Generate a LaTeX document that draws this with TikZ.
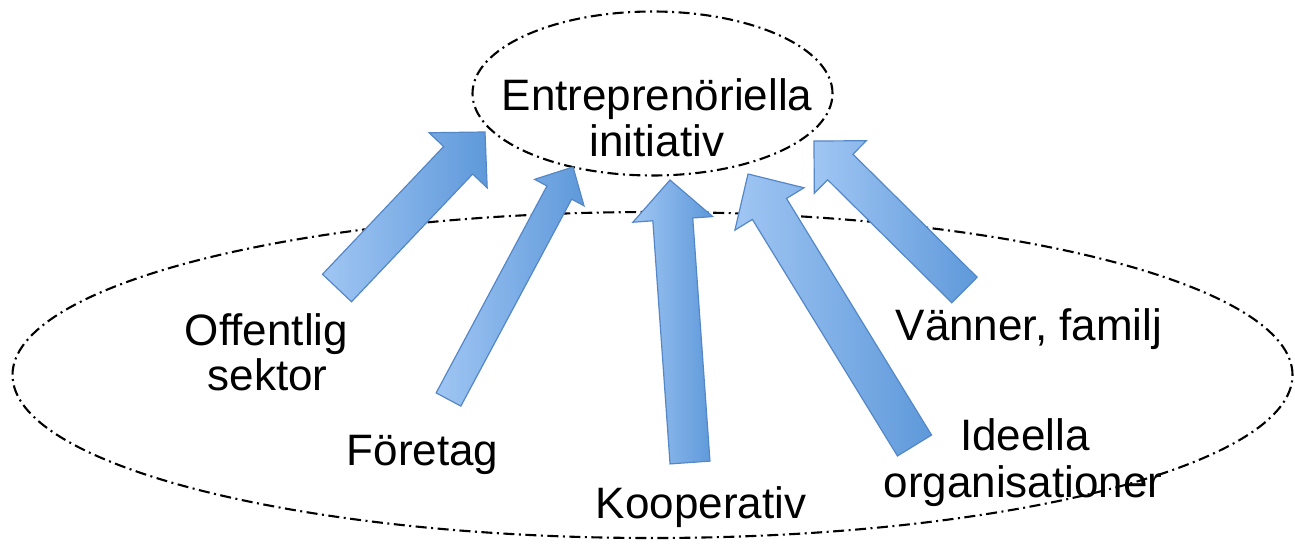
\documentclass[tikz,border=0pt]{standalone}
\usepackage{fontspec}
\setmainfont{Liberation Sans}
\usetikzlibrary{calc}
\definecolor{arrlight}{RGB}{160,198,243}
\definecolor{arrdark}{RGB}{94,153,218}
\definecolor{arredge}{RGB}{84,135,200}
\tikzset{
  dashdot ring/.style={draw=black, line width=2.1pt, dash pattern=on 11pt off 4.5pt on 2pt off 4.5pt},
  lbl/.style={anchor=base, inner sep=0pt, font=\fontsize{44}{46}\selectfont},
  blockarrowstyle/.style={left color=arrlight, right color=arrdark, draw=arredge, line width=1.2pt, line join=miter}
}
% #1 tail, #2 tip, #3 half shaft width, #4 half head width, #5 head length
\newcommand\myblockarrow[5]{%
  \coordinate (hb) at ($(#2)!#5!(#1)$);
  \shade[blockarrowstyle] ($(#1)!#3!90:(#2)$) -- ($(hb)!#3!-90:(#1)$) -- ($(hb)!#4!-90:(#1)$) -- (#2)
     -- ($(hb)!#4!90:(#1)$) -- ($(hb)!#3!90:(#1)$) -- ($(#1)!#3!-90:(#2)$) -- cycle;
}
\begin{document}
\begin{tikzpicture}[x=1pt, y=-1pt]
\useasboundingbox (0,0) rectangle (1295,545);
% labels
\node[lbl] (e1) at (657,111) {Entreprenöriella};
\node[lbl] (e2) at (657,157) {initiativ};
\node[lbl] (o1) at (266.5,345) {Offentlig};
\node[lbl] (o2) at (267.5,390) {sektor};
\node[lbl] (f1) at (422.5,465) {Företag};
\node[lbl] (k1) at (701,518) {Kooperativ};
\node[lbl] (i1) at (1025,450) {Ideella};
\node[lbl] (i2) at (1023,497) {organisationer};
\node[lbl] (v1) at (1029,340) {Vänner, familj};
% ellipses
\coordinate (bigc) at (652.5,375);
\coordinate (smallc) at (652.5,93.5);
\draw[dashdot ring] (bigc) ellipse [x radius=640pt, y radius=163pt];
\draw[dashdot ring] (smallc) ellipse [x radius=180pt, y radius=82pt];
% arrows
\coordinate (t1) at (337,288);   \coordinate (p1) at (485,132);
\coordinate (t2) at (448.5,399.5); \coordinate (p2) at (573,167);
\coordinate (t3) at (690,462.5); \coordinate (p3) at (670,180);
\coordinate (t4) at (914.5,445.5); \coordinate (p4) at (748,174);
\coordinate (t5) at (964.5,290); \coordinate (p5) at (814,141);
\myblockarrow{t1}{p1}{20pt}{40pt}{39pt}
\myblockarrow{t2}{p2}{14pt}{28pt}{29pt}
\myblockarrow{t3}{p3}{20pt}{40pt}{39.5pt}
\myblockarrow{t4}{p4}{20pt}{40.5pt}{41pt}
\myblockarrow{t5}{p5}{18pt}{37pt}{37pt}
\end{tikzpicture}
\end{document}
